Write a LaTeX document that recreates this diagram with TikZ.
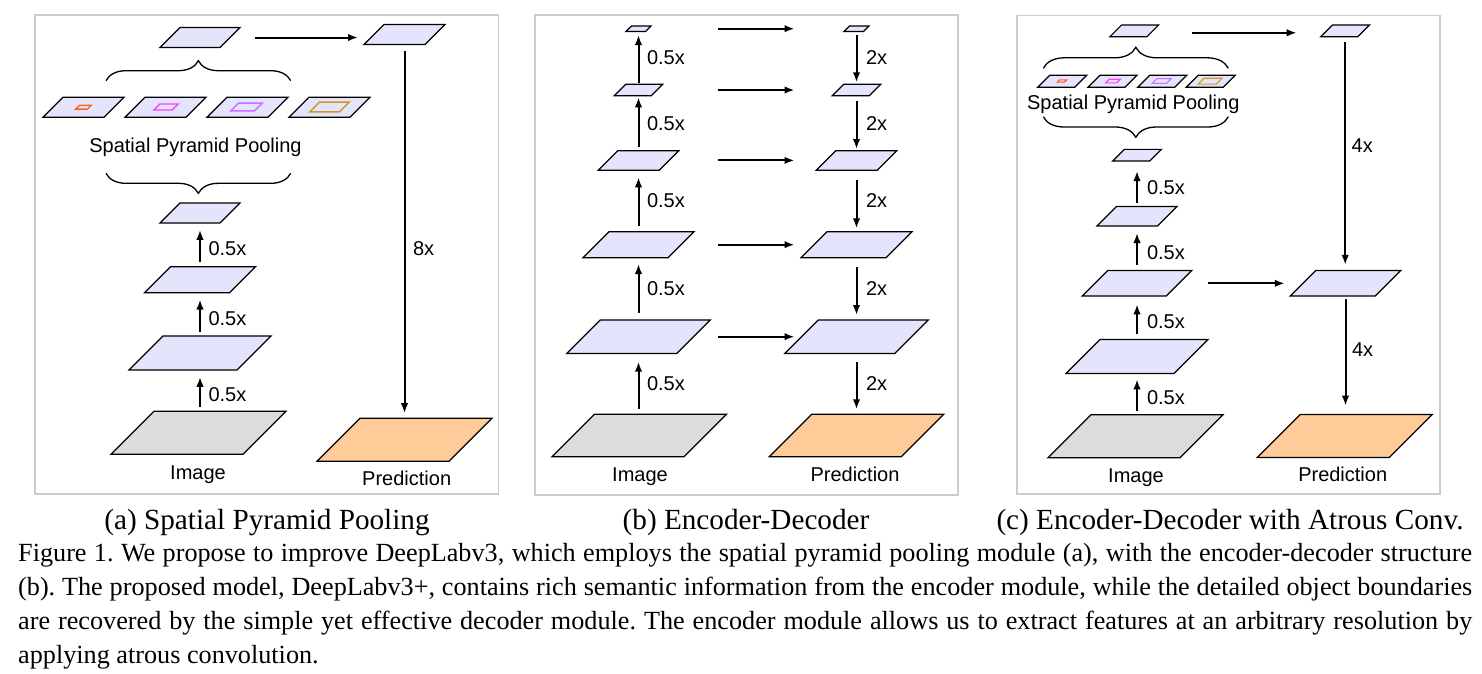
\documentclass[tikz,border=0pt]{standalone}
\usepackage{fontspec}
\setmainfont{Liberation Serif}
\setsansfont{Liberation Sans}
\usetikzlibrary{arrows.meta,decorations.pathreplacing}
\definecolor{mapfill}{RGB}{228,228,252}
\definecolor{imgfill}{RGB}{220,220,220}
\definecolor{predfill}{RGB}{255,204,153}
\definecolor{panelgray}{RGB}{204,204,204}
\definecolor{sppA}{RGB}{255,96,40}
\definecolor{sppB}{RGB}{255,64,255}
\definecolor{sppC}{RGB}{204,110,255}
\definecolor{sppD}{RGB}{212,152,32}
\tikzset{
  box/.style={inner sep=0pt, outer sep=0pt, draw=none},
  fmap/.style={draw=black, line width=1.2pt, line join=miter, fill=mapfill},
  fimg/.style={fmap, fill=imgfill},
  fpred/.style={fmap, fill=predfill},
  inA/.style={draw=sppA, line width=1.4pt},
  inB/.style={draw=sppB, line width=1.4pt},
  inC/.style={draw=sppC, line width=1.4pt},
  inD/.style={draw=sppD, line width=1.4pt},
  inAs/.style={draw=sppA, line width=1.1pt},
  inBs/.style={draw=sppB, line width=1.1pt},
  inCs/.style={draw=sppC, line width=1.1pt},
  inDs/.style={draw=sppD, line width=1.1pt},
  arr/.style={line width=2pt, -{Latex[length=10pt,width=7.5pt]}},
  lbl/.style={font=\sffamily\fontsize{20}{24}\selectfont, anchor=west, inner sep=0pt, xshift=7.5pt},
  txt/.style={font=\sffamily\fontsize{20}{24}\selectfont, anchor=base, inner sep=0pt},
  panel/.style={draw=panelgray, line width=1.2pt},
  brc/.style={decorate, decoration={brace, amplitude=#1}, line width=1.3pt},
  subcap/.style={font=\rmfamily\fontsize{29.2}{34}\selectfont, anchor=base, inner sep=0pt},
  bodycap/.style={font=\rmfamily\fontsize{26.2}{34}\selectfont\frenchspacing, anchor=base west, inner sep=0pt},
}
\newcommand\fmapdraw[6]{%
  \node[box, minimum width={#4+#5}, minimum height={#5}] (#1) at (#2,#3) {};
  \draw[#6] (#1.south west) -- ([xshift=#4pt]#1.south west) -- (#1.north east) -- ([xshift=-#4pt]#1.north east) -- cycle;}
\begin{document}
\frenchspacing
\begin{tikzpicture}[x=1pt,y=-1pt]
\useasboundingbox[fill=white] (0,0) rectangle (1482,673);
% panels
\draw[panel] (35,15) rectangle (498.5,494);
\draw[panel] (535,15) rectangle (958,495);
\draw[panel] (1017,15.5) rectangle (1440,494);

% ---------------- (a) ----------------
\fmapdraw{a1}{198.5}{432.7}{132}{43}{fimg}
\fmapdraw{a2}{200}{353}{108}{34}{fmap}
\fmapdraw{a3}{200}{279.7}{85}{26}{fmap}
\fmapdraw{a4}{200}{213}{60}{20}{fmap}
\fmapdraw{as1}{83.5}{107.2}{61}{20}{fmap}
\fmapdraw{as2}{165.5}{107.2}{61}{20}{fmap}
\fmapdraw{as3}{247.5}{107.2}{61}{20}{fmap}
\fmapdraw{as4}{329.5}{107.2}{61}{20}{fmap}
\fmapdraw{as1i}{83.5}{107.2}{11.6}{3.8}{inA}
\fmapdraw{as2i}{166}{107}{18.3}{6}{inB}
\fmapdraw{as3i}{246.5}{107}{23.8}{7.8}{inC}
\fmapdraw{as4i}{329.5}{107}{29.9}{9.8}{inD}
\fmapdraw{a5}{200}{37.5}{60}{20}{fmap}
\fmapdraw{a6}{404.5}{34.5}{61}{20}{fmap}
\fmapdraw{ap}{404.5}{439.7}{132}{43}{fpred}
\coordinate (abl1) at (106,80.7);
\coordinate (abr1) at (290.7,80.7);
\coordinate (abl2) at (106,173.3);
\coordinate (abr2) at (290.7,173.3);
\draw[brc=20pt] (abl1) -- (abr1);
\draw[brc=20pt] (abr2) -- (abl2);
\node[txt] (aspp) at (195.5,152.6) {Spatial Pyramid Pooling};
\node[txt] (aimg) at (198,479.3) {Image};
\node[txt] (apt) at (406.7,485.5) {Prediction};
\draw[arr, shorten <=4.3pt, shorten >=6.8pt] (a1.north -| a2) -- (a2.south) node[lbl, midway, yshift=-4pt] (al1) {0.5x};
\draw[arr, shorten <=4.3pt, shorten >=6.8pt] (a2.north) -- (a3.south) node[lbl, midway, yshift=-4pt] (al2) {0.5x};
\draw[arr, shorten <=4.3pt, shorten >=6.8pt] (a3.north) -- (a4.south) node[lbl, midway, yshift=-4pt] (al3) {0.5x};
\draw[arr, shorten <=15pt, shorten >=6pt] (a5.east) -- (a5.east -| a6.west);
\draw[arr, shorten <=6.5pt, shorten >=5pt] (a6.south) -- (ap.north) node[lbl, pos=0.547] (al4) {8x};

% ---------------- (b) ----------------
\fmapdraw{b1}{639.2}{435.5}{132}{42.4}{fimg}
\fmapdraw{b2}{638.5}{336.7}{110}{33.5}{fmap}
\fmapdraw{b3}{638.5}{244.7}{85}{26}{fmap}
\fmapdraw{b4}{638.5}{160.4}{61}{19.5}{fmap}
\fmapdraw{b5}{638.5}{90}{37}{11.5}{fmap}
\fmapdraw{b6}{638.5}{28.7}{19.5}{5.5}{fmap}
\fmapdraw{d6}{856.5}{28.7}{19.5}{5.5}{fmap}
\fmapdraw{d5}{856.5}{90}{37}{11.5}{fmap}
\fmapdraw{d4}{856.5}{160.4}{61}{19.5}{fmap}
\fmapdraw{d3}{856.5}{244.7}{85}{26}{fmap}
\fmapdraw{d2}{856.5}{336.7}{110}{33.5}{fmap}
\fmapdraw{bp}{856.5}{435.5}{132}{42.4}{fpred}
\node[txt] (bimg) at (640,481) {Image};
\node[txt] (bpt) at (855,481) {Prediction};
\draw[arr, shorten <=5pt, shorten >=8.25pt] (b1.north -| b2) -- (b2.south) node[lbl, midway] (bl1) {0.5x};
\draw[arr, shorten <=7.25pt, shorten >=6.3pt] (b2.north) -- (b3.south) node[lbl, midway] (bl2) {0.5x};
\draw[arr, shorten <=6pt, shorten >=7.15pt] (b3.north) -- (b4.south) node[lbl, midway] (bl3) {0.5x};
\draw[arr, shorten <=3.95pt, shorten >=1.55pt] (b4.north) -- (b5.south) node[lbl, midway] (bl4) {0.5x};
\draw[arr, shorten <=1.55pt, shorten >=3.55pt] (b5.north) -- (b6.south) node[lbl, midway] (bl5) {0.5x};
\draw[arr, shorten <=3.55pt, shorten >=1.95pt] (d6.south) -- (d5.north) node[lbl, midway, xshift=1pt] (dl1) {2x};
\draw[arr, shorten <=5.25pt, shorten >=1.65pt] (d5.south) -- (d4.north) node[lbl, midway, xshift=1pt] (dl2) {2x};
\draw[arr, shorten <=9.85pt, shorten >=3.4pt] (d4.south) -- (d3.north) node[lbl, midway, xshift=1pt] (dl3) {2x};
\draw[arr, shorten <=9.6pt, shorten >=4.95pt] (d3.south) -- (d2.north) node[lbl, midway, xshift=1pt] (dl4) {2x};
\draw[arr, shorten <=8.85pt, shorten >=5pt] (d2.south) -- (bp.north) node[lbl, midway, xshift=1pt] (dl5) {2x};
\coordinate (bhs) at (718.3,0);
\coordinate (bhe) at (794.5,0);
\draw[arr] (b6 -| bhs) -- (d6 -| bhe);
\draw[arr] (b5 -| bhs) -- (d5 -| bhe);
\draw[arr] (b4 -| bhs) -- (d4 -| bhe);
\draw[arr] (b3 -| bhs) -- (d3 -| bhe);
\draw[arr] (b2 -| bhs) -- (d2 -| bhe);

% ---------------- (c) ----------------
\fmapdraw{c1}{1135.5}{436.2}{132}{43}{fimg}
\fmapdraw{c2}{1137}{356.5}{108}{34}{fmap}
\fmapdraw{c3}{1137}{283.3}{84}{25.5}{fmap}
\fmapdraw{c4}{1137}{216.3}{60.5}{19.5}{fmap}
\fmapdraw{c5}{1137}{155.2}{37}{11.7}{fmap}
\fmapdraw{cs1}{1062.3}{81.2}{37}{12}{fmap}
\fmapdraw{cs2}{1112.5}{81.2}{37}{12}{fmap}
\fmapdraw{cs3}{1162.2}{81.2}{37}{12}{fmap}
\fmapdraw{cs4}{1210.7}{81.2}{37}{12}{fmap}
\fmapdraw{cs1i}{1062}{81}{7}{2.3}{inAs}
\fmapdraw{cs2i}{1113}{81}{11}{3.6}{inBs}
\fmapdraw{cs3i}{1161.7}{81}{14.3}{4.7}{inCs}
\fmapdraw{cs4i}{1210.2}{81.2}{18}{5.9}{inDs}
\fmapdraw{c6}{1134.3}{30.8}{37}{11.7}{fmap}
\fmapdraw{c7}{1345.2}{30.8}{37}{11.7}{fmap}
\fmapdraw{c8}{1345.5}{283.3}{85}{25.5}{fmap}
\fmapdraw{cp}{1344.7}{436}{132}{43}{fpred}
\coordinate (cbl1) at (1043.3,68.3);
\coordinate (cbr1) at (1228.3,68.3);
\coordinate (cbl2) at (1043.3,116.7);
\coordinate (cbr2) at (1228.3,116.7);
\draw[brc=21pt] (cbl1) -- (cbr1);
\draw[brc=20.6pt] (cbr2) -- (cbl2);
\node[txt] (cspp) at (1133.3,109.3) {Spatial Pyramid Pooling};
\node[txt] (cimg) at (1136,482.6) {Image};
\node[txt] (cpt) at (1342.7,481.6) {Prediction};
\draw[arr, shorten <=4pt, shorten >=5.8pt] (c1.north -| c2) -- (c2.south) node[lbl, midway, yshift=-4pt, xshift=1.5pt] (cl1) {0.5x};
\draw[arr, shorten <=5.2pt, shorten >=8.25pt] (c2.north) -- (c3.south) node[lbl, midway, yshift=-4pt, xshift=1.5pt] (cl2) {0.5x};
\draw[arr, shorten <=5.55pt, shorten >=6.95pt] (c3.north) -- (c4.south) node[lbl, midway, yshift=-4pt, xshift=1.5pt] (cl3) {0.5x};
\draw[arr, shorten <=3.85pt, shorten >=9.95pt] (c4.north) -- (c5.south) node[lbl, midway, yshift=-4pt, xshift=1.5pt] (cl4) {0.5x};
\draw[arr, shorten <=33.75pt, shorten >=24.15pt] ([yshift=-2pt]c6.east) -- ([yshift=-2pt]c6.east -| c7.west);
\draw[arr, shorten <=5.6pt, shorten >=5.7pt] (c7.south) -- (c7.south |- c8.north) node[lbl, pos=0.465, xshift=-2pt] (cl5) {4x};
\draw[arr, shorten <=3.3pt, shorten >=8.8pt] (c8.south) -- (c8.south |- cp.north) node[lbl, pos=0.451, xshift=-2pt] (cl6) {4x};
\draw[arr, shorten <=16.5pt, shorten >=5.5pt] (c3.east) -- (c3.east -| c8.west);

% ---------------- captions ----------------
\node[subcap] (capa) at (267,529) {(a) Spatial Pyramid Pooling};
\node[subcap] (capb) at (746,529) {(b) Encoder-Decoder};
\node[subcap] (capc) at (1230,529) {(c) Encoder-Decoder with Atrous Conv.};
\node[bodycap] (l1) at (18,561) {\makebox[1454pt][s]{Figure 1. We propose to improve DeepLabv3, which employs the spatial pyramid pooling module (a), with the encoder-decoder structure}};
\node[bodycap] (l2) at (18,595) {\makebox[1454pt][s]{(b). The proposed model, DeepLabv3+, contains rich semantic information from the encoder module, while the detailed object boundaries}};
\node[bodycap] (l3) at (18,629) {\makebox[1454pt][s]{are recovered by the simple yet effective decoder module. The encoder module allows us to extract features at an arbitrary resolution by}};
\node[bodycap] (l4) at (18,663) {applying atrous convolution.};
\end{tikzpicture}
\end{document}
